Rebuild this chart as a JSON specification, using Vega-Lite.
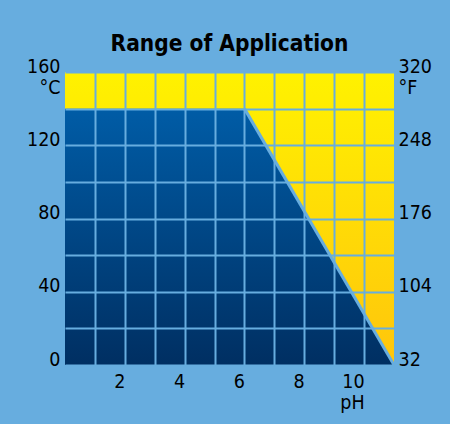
{
  "$schema": "https://vega.github.io/schema/vega-lite/v6.json",
  "width": 329,
  "height": 293,
  "autosize": {"type": "none"},
  "padding": {"left": 65, "top": 72, "right": 56, "bottom": 59},
  "background": "#67addf",
  "title": {
    "text": "Range of Application",
    "font": "Liberation Sans Narrow, DejaVu Sans Condensed, sans-serif",
    "fontSize": 22.5,
    "fontWeight": "bold",
    "color": "#000000",
    "anchor": "middle",
    "frame": "group",
    "baseline": "alphabetic",
    "offset": -17
  },
  "config": {
    "view": {"stroke": null},
    "axis": {
      "labelFont": "Liberation Sans Narrow, DejaVu Sans Condensed, sans-serif",
      "labelFontSize": 19.5,
      "labelColor": "#000000",
      "labelLineHeight": 21,
      "labelOverlap": false,
      "labelBound": false,
      "labelFlush": false,
      "domain": false,
      "ticks": false,
      "gridColor": "#67addf",
      "gridWidth": 2,
      "gridOpacity": 1
    }
  },
  "datasets": {
    "frame": [{"ph": 0, "ph2": 11, "c": 0, "c2": 160}],
    "range": [
      {"ph": 0, "c": 140},
      {"ph": 6, "c": 140},
      {"ph": 11, "c": 0}
    ],
    "edge": [
      {"ph": 6, "c": 140},
      {"ph": 11, "c": 0}
    ]
  },
  "resolve": {"axis": {"y": "independent"}},
  "encoding": {
    "x": {
      "field": "ph",
      "type": "quantitative",
      "scale": {"domain": [0, 11], "nice": false, "zero": false},
      "axis": {
        "title": null,
        "grid": true,
        "zindex": 1,
        "values": [1, 2, 3, 4, 5, 6, 7, 8, 9, 10],
        "labelExpr": "datum.value == 10 ? ['10', 'pH'] : (datum.value % 2 == 0 ? datum.label : '')",
        "labelAlign": "right",
        "labelBaseline": "top",
        "labelPadding": 7
      }
    }
  },
  "layer": [
    {
      "data": {"name": "frame"},
      "mark": {
        "type": "rect",
        "color": {
          "gradient": "linear",
          "x1": 0, "y1": 0, "x2": 0, "y2": 1,
          "stops": [
            {"offset": 0, "color": "#fff200"},
            {"offset": 1, "color": "#ffc50c"}
          ]
        }
      },
      "encoding": {
        "x2": {"field": "ph2"},
        "y": {
          "field": "c",
          "type": "quantitative",
          "scale": {"domain": [0, 160], "nice": false, "zero": false},
          "axis": {
            "title": null,
            "grid": true,
            "zindex": 1,
            "orient": "left",
            "values": [0, 20, 40, 60, 80, 100, 120, 140, 160],
            "labelExpr": "datum.value == 160 ? ['160', '°C'] : (datum.value % 40 == 0 ? datum.label : '')",
            "labelAlign": "right",
            "labelBaseline": "alphabetic",
            "labelPadding": 5
          }
        },
        "y2": {"field": "c2"}
      }
    },
    {
      "data": {"name": "range"},
      "mark": {
        "type": "area",
        "color": {
          "gradient": "linear",
          "x1": 0, "y1": 0, "x2": 0, "y2": 1,
          "stops": [
            {"offset": 0, "color": "#005ca6"},
            {"offset": 1, "color": "#002f62"}
          ]
        }
      },
      "encoding": {
        "y": {
          "field": "c",
          "type": "quantitative",
          "axis": {
            "title": null,
            "orient": "right",
            "grid": false,
            "values": [0, 40, 80, 120, 160],
            "labelExpr": "datum.value == 160 ? ['320', '°F'] : format(datum.value * 1.8 + 32, 'd')",
            "labelAlign": "left",
            "labelBaseline": "alphabetic",
            "labelPadding": 4
          }
        }
      }
    },
    {
      "data": {"name": "edge"},
      "mark": {"type": "line", "color": "#67addf", "strokeWidth": 3},
      "encoding": {
        "y": {"field": "c", "type": "quantitative", "axis": null}
      }
    }
  ]
}
